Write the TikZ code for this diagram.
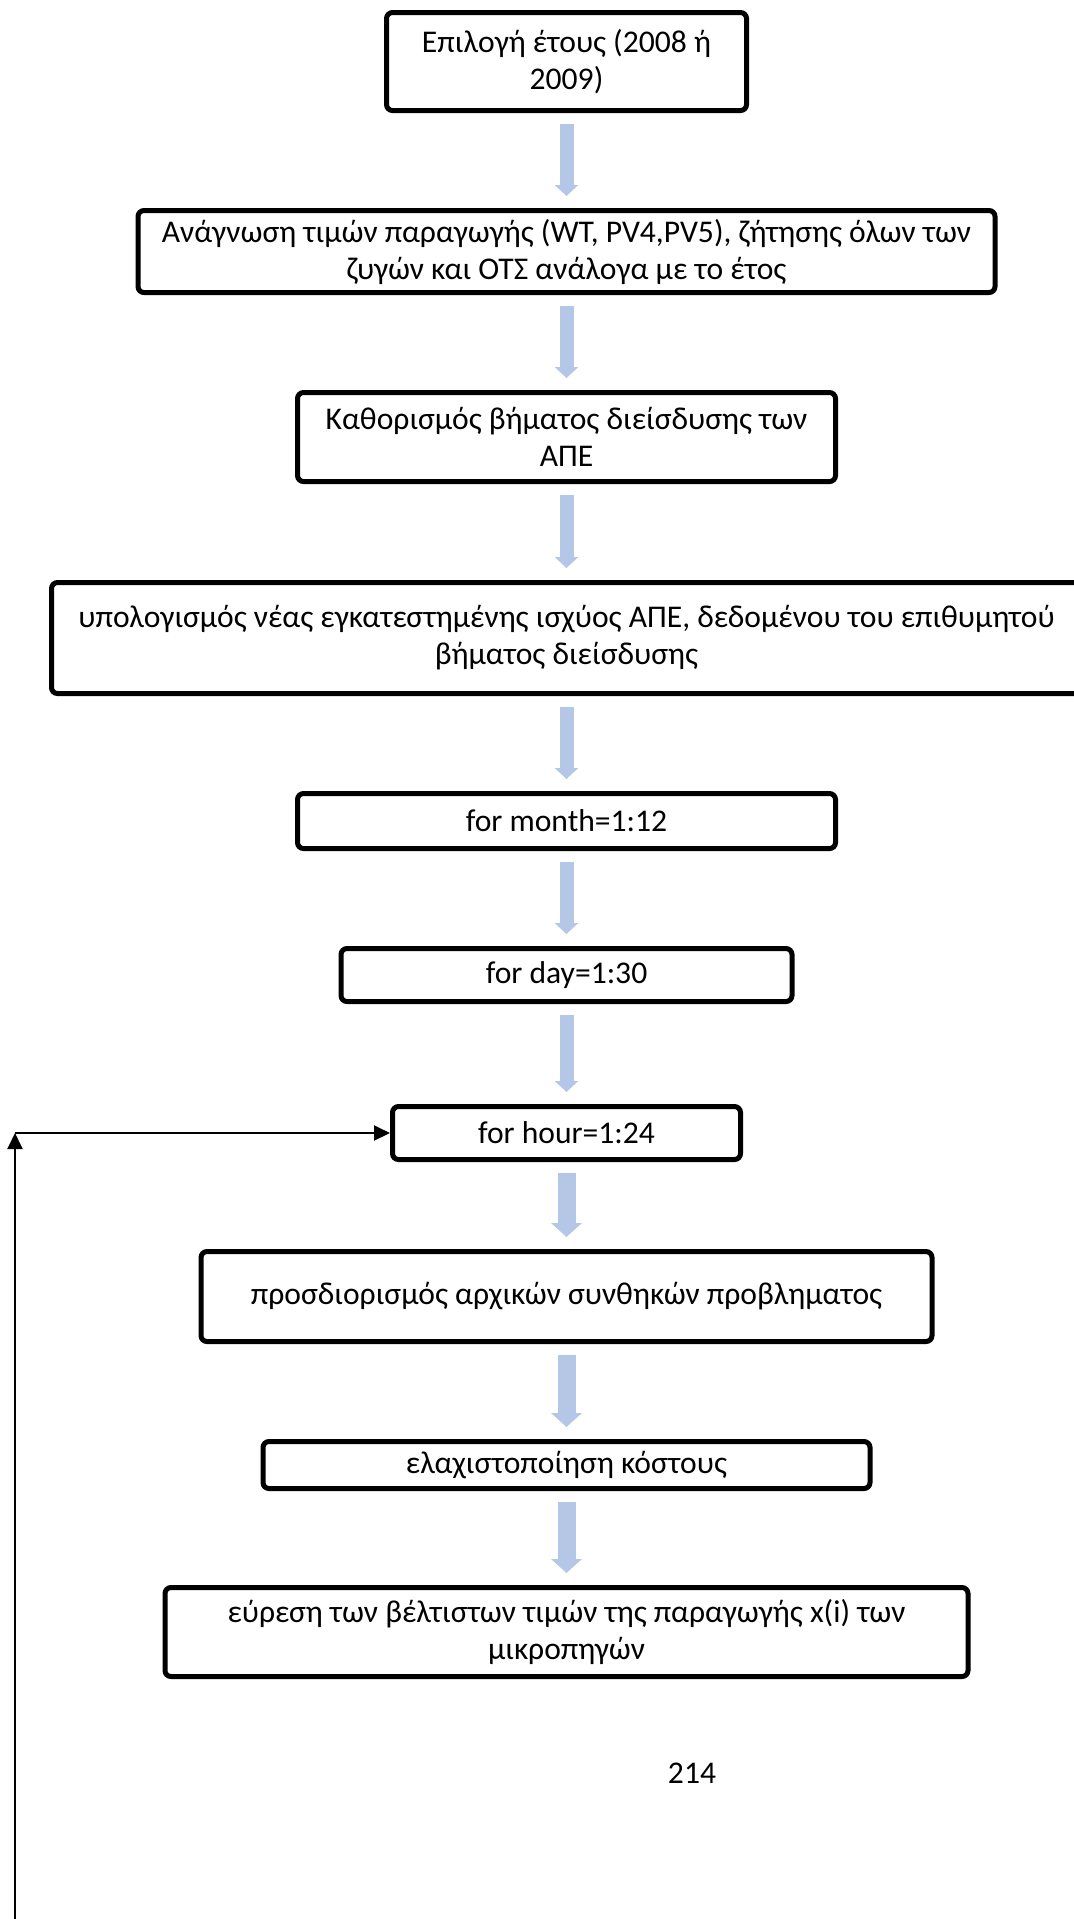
\documentclass[tikz,border=0pt]{standalone}
\usepackage{fontspec}
\setmainfont{Carlito}
\usepackage{xcolor}
\usetikzlibrary{arrows.meta, positioning}

\definecolor{flowblue}{RGB}{180,199,231}

\begin{document}
\begin{tikzpicture}[
    x=0.5pt, y=-0.5pt,
    node distance=47.5pt,
    box/.style={rectangle, draw, line width=2.5pt, rounded corners=3pt, align=center, inner sep=2pt, font=\fontsize{15.8}{18.5}\selectfont},
    flow/.style={flowblue, line width=7pt, -{Triangle[length=5.5pt, width=11.5pt]}, shorten <=5.5pt, shorten >=6pt},
    bigflow/.style={flowblue, line width=9pt, -{Triangle[length=7pt, width=15pt]}, shorten <=5.5pt, shorten >=6pt},
    loopline/.style={line width=1pt, -{Triangle[length=8pt, width=7.5pt]}}
]
\useasboundingbox (0,0) rectangle (1074,1919);

\node[box, minimum width=180pt, minimum height=49pt] (year) at (566.5,61.5) {Επιλογή έτους (2008 ή\\2009)};
\node[box, below=of year, minimum width=428.5pt, minimum height=41pt] (read) {Ανάγνωση τιμών παραγωγής (WT, PV4,PV5), ζήτησης όλων των\\ζυγών και ΟΤΣ ανάλογα με το έτος};
\node[box, below=of read, minimum width=269pt, minimum height=44.5pt] (step) {Καθορισμός βήματος διείσδυσης των\\ΑΠΕ};
\node[box, below=48pt of step, minimum width=515pt, minimum height=55.5pt] (power) {υπολογισμός νέας εγκατεστημένης ισχύος ΑΠΕ, δεδομένου του επιθυμητού\\βήματος διείσδυσης};
\node[box, below=of power, minimum width=269pt, minimum height=27.5pt] (month) {for month=1:12};
\node[box, below=of month, minimum width=225.5pt, minimum height=26.5pt] (day) {for day=1:30};
\node[box, below=50pt of day, minimum width=174pt, minimum height=26.5pt] (hour) {for hour=1:24};
\node[box, below=43.5pt of hour, minimum width=365.5pt, minimum height=45pt] (init) {προσδιορισμός αρχικών συνθηκών προβληματος};
\node[box, below=of init, minimum width=303.5pt, minimum height=23.5pt] (cost) {ελαχιστοποίηση κόστους};
\node[box, below=47pt of cost, minimum width=401.5pt, minimum height=44.5pt] (best) {εύρεση των βέλτιστων τιμών της παραγωγής x(i) των\\μικροπηγών};

\node[font=\fontsize{15.8}{18.5}\selectfont] (pagenum) at (692,1773) {214};

\draw[flow] (year) -- (read);
\draw[flow] (read) -- (step);
\draw[flow] (step) -- (power);
\draw[flow] (power) -- (month);
\draw[flow] (month) -- (day);
\draw[flow] (day) -- (hour);
\draw[bigflow] (hour) -- (init);
\draw[bigflow] (init) -- (cost);
\draw[bigflow] (cost) -- (best);

\coordinate (loopfoot) at (15,1919);
\coordinate (loopturn) at (hour.west -| loopfoot);
\draw[loopline] (loopfoot) -- (loopturn);
\draw[loopline] (loopturn) -- (hour.west);
\end{tikzpicture}
\end{document}
